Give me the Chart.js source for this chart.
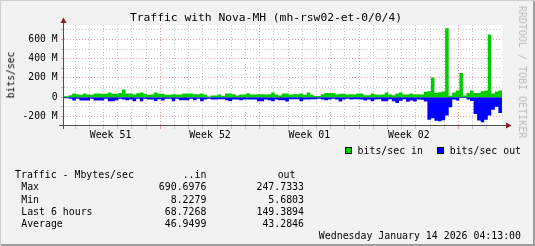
<!DOCTYPE html>
<html>
<head>
<meta charset="utf-8">
<script src="https://cdn.jsdelivr.net/npm/chart.js@4.4.1/dist/chart.umd.min.js"></script>
<style>
  html, body { margin: 0; padding: 0; background: #f2f2f2; }
  #frame {
    position: relative; width: 535px; height: 246px; overflow: hidden;
    background: #f2f2f2;
    box-shadow: inset 1px 1px 0 #cfcfcf, inset -2px -2px 0 #9e9e9e;
  }
  #graph { position: absolute; left: 0; top: 0; }
  .t {
    position: absolute; font-family: "DejaVu Sans Mono", monospace;
    font-size: 9.9px; line-height: 1; white-space: pre; color: #000;
  }
  .box { position: absolute; width: 7px; height: 7px; box-sizing: border-box; border: 1px solid #000; }
</style>
</head>
<body>
<div id="frame">
  <canvas id="graph" width="535" height="246"></canvas>
  <div class="t" id="title" style="left:0;width:532px;text-align:center;top:12px;font-size:11.3px"></div>
  <div class="t" id="ylabel" style="left:10.8px;top:75px;font-size:9.7px;transform:translate(-50%,-50%) rotate(-90deg)">bits/sec</div>
  <div class="t" id="mark" style="left:522px;top:72px;font-size:10px;color:#bcbcbc;transform:translate(-50%,-50%) rotate(90deg)">RRDTOOL / TOBI OETIKER</div>
  <div id="legend"></div>
  <div id="stats"></div>
  <div class="t" id="stamp" style="right:14px;top:231px"></div>
</div>
<script>
// values in Mbit/s, one per 6 hour bin, oldest first
const inMbps = [
  10, 8, 20, 37, 30, 24, 37, 27, 26, 37,
  37, 34, 34, 48, 34, 34, 44, 79, 37, 37,
  27, 41, 48, 34, 24, 27, 48, 34, 34, 24,
  24, 30, 27, 27, 37, 37, 37, 30, 30, 37,
  24, 6, 17, 17, 27, 13, 37, 37, 30, 17,
  27, 27, 41, 27, 27, 30, 30, 27, 30, 48,
  27, 17, 37, 37, 24, 30, 30, 37, 24, 48,
  24, 13, 13, 30, 44, 44, 44, 27, 34, 34,
  27, 30, 27, 37, 37, 20, 20, 37, 27, 24,
  27, 48, 27, 20, 38, 48, 27, 27, 38, 27,
  30, 28, 55, 62, 205, 42, 52, 59, 715, 14,
  49, 69, 250, 17, 42, 69, 42, 42, 62, 69,
  652, 38, 58, 70
];
const outMbps = [
  11, 11, 18, 35, 18, 35, 35, 35, 18, 35,
  35, 35, 18, 42, 42, 32, 18, 25, 32, 25,
  42, 18, 42, 18, 25, 25, 39, 21, 35, 18,
  18, 42, 18, 32, 32, 32, 18, 32, 18, 42,
  25, 18, 25, 25, 21, 21, 32, 42, 25, 25,
  32, 25, 25, 25, 25, 42, 42, 25, 32, 42,
  25, 32, 32, 46, 21, 21, 21, 42, 25, 25,
  21, 21, 18, 25, 32, 25, 18, 25, 46, 25,
  18, 25, 21, 21, 25, 35, 25, 42, 25, 21,
  42, 42, 21, 42, 60, 38, 21, 49, 35, 46,
  25, 28, 45, 236, 219, 246, 250, 240, 191, 104,
  25, 35, 10, 10, 25, 40, 174, 243, 261, 236,
  190, 132, 100, 165
];

const firstBinHour = -4.05;   // start of the first bin, hours from left edge
const binHours = 6;
const spanHours = 740;
const firstMidnight = 18.6;
const dayCount = 30;
const weekStartDays = [6, 13, 20, 27];
const weekLabels = ["Week 51", "Week 52", "Week 01", "Week 02"];
const yGridValues = [-200, -100, 0, 100, 200, 300, 400, 500, 600, 700];

const titleText = "Traffic with Nova-MH (mh-rsw02-et-0/0/4)";
const seriesNames = ["bits/sec in", "bits/sec out"];
const seriesColors = ["#00cc00", "#0000ff"];
const statHeader = ["Traffic - Mbytes/sec", "..in", "out"];
const statNames = ["Max", "Min", "Last 6 hours", "Average"];
const statIn = ["690.6976", "8.2279", "68.7268", "46.9499"];
const statOut = ["247.7333", "5.6803", "149.3894", "43.2846"];
const stampText = "Wednesday January 14 2026 04:13:00";

const FONT = "DejaVu Sans Mono";
const MINOR = "#c4c4c4";
const MAJOR = "#eba0a0";

// text outside the plot
document.getElementById("title").textContent = titleText;
document.getElementById("stamp").textContent = stampText;

const legend = document.getElementById("legend");
[[345, 357.6], [437, 449.7]].forEach(([bx, tx], i) => {
  const b = document.createElement("div");
  b.className = "box";
  b.style.cssText = `left:${bx}px;top:147px;background:${seriesColors[i]}`;
  legend.appendChild(b);
  const t = document.createElement("div");
  t.className = "t";
  t.style.cssText = `left:${tx}px;top:146px`;
  t.textContent = seriesNames[i];
  legend.appendChild(t);
});

const stats = document.getElementById("stats");
function addText(txt, css) {
  const d = document.createElement("div");
  d.className = "t";
  d.style.cssText = css;
  d.textContent = txt;
  stats.appendChild(d);
}
addText(statHeader[0], "left:15px;top:170px");
addText(statHeader[1], "right:328.6px;top:170px");
addText(statHeader[2], "right:239.5px;top:170px");
statNames.forEach((name, i) => {
  const top = 182.3 + i * 12.28;
  addText(name, `left:21.2px;top:${top}px`);
  addText(statIn[i], `right:328.6px;top:${top}px`);
  addText(statOut[i], `right:231px;top:${top}px`);
});

// chart data
function stepPoints(vals, sign) {
  const pts = vals.map((v, i) => ({ x: firstBinHour + i * binHours, y: sign * v }));
  pts.push({ x: firstBinHour + vals.length * binHours, y: sign * vals[vals.length - 1] });
  return pts;
}

const dayHours = [];
for (let k = 0; k < dayCount; k++) dayHours.push(firstMidnight + k * 24);
const weekCenters = weekStartDays.map((d) => firstMidnight + (d - 3.5) * 24);

function isWeekLine(ctx) {
  const idx = dayHours.indexOf(ctx.tick && ctx.tick.value);
  return weekStartDays.includes(idx);
}

const plotBackground = {
  id: "plotBackground",
  beforeDraw(chart) {
    const { ctx, chartArea: a } = chart;
    ctx.save();
    ctx.fillStyle = "#ffffff";
    ctx.fillRect(a.left, a.top, a.right - a.left, a.bottom - a.top);
    ctx.restore();
  },
};

const axesArrows = {
  id: "axesArrows",
  afterDraw(chart) {
    const { ctx, chartArea: a } = chart;
    const x0 = a.left - 0.5;
    const y0 = a.bottom - 0.5;
    ctx.save();
    ctx.strokeStyle = "#505050";
    ctx.lineWidth = 1;
    ctx.beginPath();
    ctx.moveTo(x0, a.bottom + 3);
    ctx.lineTo(x0, a.top - 3);
    ctx.moveTo(a.left - 5, y0);
    ctx.lineTo(a.right + 5, y0);
    ctx.stroke();
    ctx.fillStyle = "#801f1f";
    ctx.beginPath();
    ctx.moveTo(x0 - 3, a.top - 2);
    ctx.lineTo(x0 + 3, a.top - 2);
    ctx.lineTo(x0, a.top - 7.5);
    ctx.closePath();
    ctx.fill();
    ctx.beginPath();
    ctx.moveTo(a.right + 4, y0 - 3);
    ctx.lineTo(a.right + 4, y0 + 3);
    ctx.lineTo(a.right + 9.5, y0);
    ctx.closePath();
    ctx.fill();
    ctx.restore();
  },
};

new Chart(document.getElementById("graph"), {
  type: "line",
  data: {
    datasets: [
      {
        label: seriesNames[0],
        data: stepPoints(inMbps, 1),
        stepped: "before",
        fill: "origin",
        backgroundColor: seriesColors[0],
        borderColor: "rgba(0,0,0,0)",
        borderWidth: 0,
        pointRadius: 0,
      },
      {
        label: seriesNames[1],
        data: stepPoints(outMbps, -1),
        stepped: "before",
        fill: "origin",
        backgroundColor: seriesColors[1],
        borderColor: "rgba(0,0,0,0)",
        borderWidth: 0,
        pointRadius: 0,
      },
    ],
  },
  options: {
    responsive: false,
    animation: false,
    events: [],
    layout: { padding: { left: 0, top: 25, right: 33, bottom: 0 } },
    plugins: { legend: { display: false }, tooltip: { enabled: false }, title: { display: false } },
    scales: {
      x: {
        type: "linear",
        position: "bottom",
        min: 0,
        max: spanHours,
        afterBuildTicks: (s) => { s.ticks = dayHours.map((v) => ({ value: v })); },
        afterFit: (s) => { s.height = 3; },
        ticks: { display: false, autoSkip: false },
        grid: {
          color: (ctx) => (isWeekLine(ctx) ? MAJOR : MINOR),
          lineWidth: 1,
          drawTicks: true,
          tickLength: 3,
          tickBorderDash: [],
        },
        border: { display: false, dash: [1, 2] },
      },
      x2: {
        type: "linear",
        position: "bottom",
        min: 0,
        max: spanHours,
        afterBuildTicks: (s) => { s.ticks = weekCenters.map((v) => ({ value: v })); },
        afterFit: (s) => { s.height = 117; },
        ticks: {
          autoSkip: false,
          maxRotation: 0,
          padding: 0,
          color: "#000",
          font: { family: FONT, size: 9.9 },
          callback: (v, i) => weekLabels[i],
        },
        grid: { display: false, drawTicks: false },
        border: { display: false },
      },
      y: {
        type: "linear",
        min: -300,
        max: 750,
        afterBuildTicks: (s) => { s.ticks = yGridValues.map((v) => ({ value: v })); },
        afterFit: (s) => { s.width = 64; },
        ticks: {
          autoSkip: false,
          padding: 3.5,
          color: "#000",
          font: { family: FONT, size: 9.7 },
          callback: (v) => (v % 200 === 0 ? (v === 0 ? "0" : v + " M") : ""),
        },
        grid: {
          color: (ctx) => (ctx.tick && ctx.tick.value % 200 === 0 ? MAJOR : MINOR),
          lineWidth: 1,
          drawTicks: true,
          tickLength: 3,
          tickBorderDash: [],
        },
        border: { display: false, dash: [1, 2] },
      },
    },
  },
  plugins: [plotBackground, axesArrows],
});
</script>
</body>
</html>
